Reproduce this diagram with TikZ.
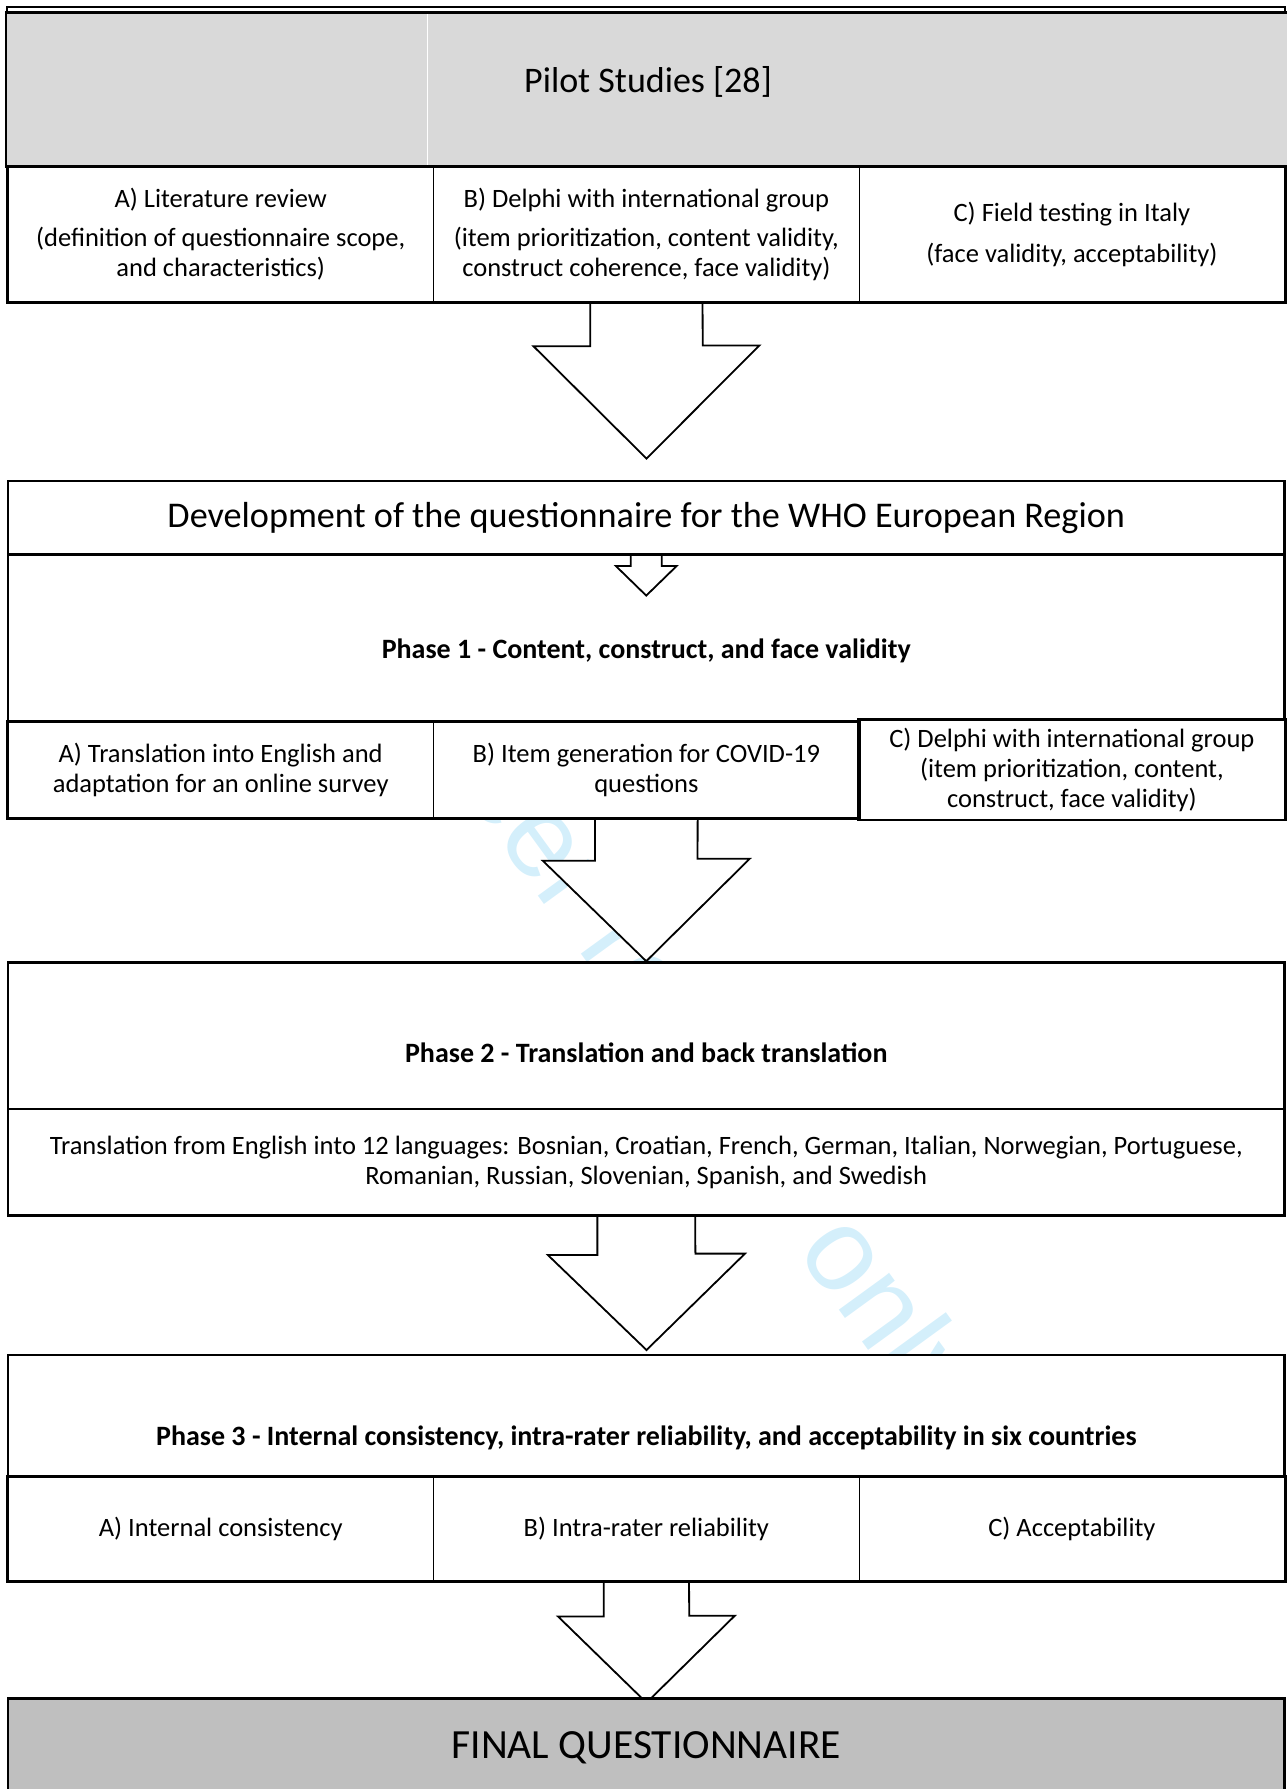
\documentclass[tikz,border=0pt]{standalone}
\usepackage{fontspec}
\setmainfont{Carlito}
\newfontfamily\wmfont{Liberation Sans}
\definecolor{hdrgray}{RGB}{217,217,217}
\definecolor{fingray}{RGB}{191,191,191}
\definecolor{wmblue}{RGB}{212,239,251}
\pgfdeclarelayer{bg}
\pgfsetlayers{bg,main}

\begin{document}
\begin{tikzpicture}[x=1pt, y=-1pt, line join=miter,
  body/.style={font=\fontsize{26.5}{30}\selectfont},
  cell/.style={draw, line width=1.6pt, fill=white, inner sep=0pt, align=center, body},
  panel/.style={draw, line width=2.6pt, fill=white, inner sep=0pt, align=center},
  frame/.style={draw, line width=2.6pt},
  blockarr/.style={draw, line width=1.8pt, fill=white},
  phasefont/.style={font=\fontsize{28}{32}\selectfont\bfseries}]

  %% ---- pilot studies ----
  \draw[line width=1.8pt, fill=white] (7,6.6) rectangle (1285,12.3);
  \node[panel, fill=hdrgray, minimum width=1284pt, minimum height=154.4pt,
        text height=12pt, text depth=7pt, font=\fontsize{36}{42}\selectfont]
        (pilot) at (648,89.5) {Pilot Studies [28]};
  \draw[white, line width=1pt] (427,14) -- (427,165);

  \node[cell, minimum width=425.4pt, minimum height=134.5pt] (pilotA) at (220.7,234.25)
    {A) Literature review\\[9pt](definition of questionnaire scope,\\and characteristics)};
  \node[cell, minimum width=425.9pt, minimum height=134.5pt] (pilotB) at (646.35,234.25)
    {B) Delphi with international group\\[9pt](item prioritization, content validity,\\construct coherence, face validity)};
  \node[cell, minimum width=425.2pt, minimum height=134.5pt] (pilotC) at (1071.9,234.25)
    {C) Field testing in Italy\\[11pt](face validity, acceptability)};
  \draw[frame] (pilotA.north west) rectangle (pilotC.south east);

  %% ---- development ----
  \node[panel, minimum width=1276.5pt, minimum height=73.3pt, font=\fontsize{36.2}{42}\selectfont]
        (dev) at (646.25,517.65) {Development of the questionnaire for the WHO European Region};

  %% phase 1
  \node[panel, minimum width=1276.5pt, minimum height=167.8pt, phasefont,
        text height=39.8pt, text depth=0pt]
        (ph1) at (646.25,638.2) {Phase 1 - Content, construct, and face validity};
  \node[cell, minimum width=425.4pt, minimum height=95.4pt] (ph1A) at (220.7,769.8)
    {A) Translation into English and\\adaptation for an online survey};
  \node[cell, minimum width=425.9pt, minimum height=95.4pt] (ph1B) at (646.35,769.8)
    {B) Item generation for COVID-19\\questions};
  \node[cell, minimum width=425.2pt, minimum height=98.9pt] (ph1C) at (1071.9,769.85)
    {C) Delphi with international group\\(item prioritization, content,\\construct, face validity)};
  \draw[frame] (ph1A.north west) rectangle (ph1B.south east);
  \draw[frame] (ph1C.north west) rectangle (ph1C.south east);

  %% phase 2
  \node[panel, minimum width=1276.5pt, minimum height=146.4pt, phasefont,
        text height=54.2pt, text depth=0pt]
        (ph2) at (646.25,1035.7) {Phase 2 - Translation and back translation};
  \node[panel, body, minimum width=1276.5pt, minimum height=106.5pt] (trans) at (646.25,1162.15)
    {Translation from English into 12 languages: Bosnian, Croatian, French, German, Italian, Norwegian, Portuguese,\\
     Romanian, Russian, Slovenian, Spanish, and Swedish};

  %% phase 3
  \node[panel, minimum width=1276.5pt, minimum height=121.7pt, phasefont,
        text height=59.8pt, text depth=0pt]
        (ph3) at (646.25,1415.85) {Phase 3 - Internal consistency, intra-rater reliability, and acceptability in six countries};
  \node[cell, minimum width=425.4pt, minimum height=104pt] (ph3A) at (220.7,1528.7) {A) Internal consistency};
  \node[cell, minimum width=425.9pt, minimum height=104pt] (ph3B) at (646.35,1528.7) {B) Intra-rater reliability};
  \node[cell, minimum width=425.2pt, minimum height=104pt] (ph3C) at (1071.9,1528.7) {C) Acceptability};
  \draw[frame] (ph3A.north west) rectangle (ph3C.south east);

  %% final
  \node[panel, fill=fingray, minimum width=1276.5pt, minimum height=93.4pt,
        text height=26.6pt, text depth=0pt, font=\fontsize{41.5}{48}\selectfont]
        (final) at (646.25,1745) {FINAL QUESTIONNAIRE};

  %% ---- arrows ----
  \coordinate (tip1) at (646.5,458.6);
  \coordinate (tip3) at (646.5,1350);
  \coordinate (tip4) at (646.5,1702.7);
  \draw[blockarr, fill=none] ([xshift=-15.5pt]dev.south) -- ++(0,10.3) -- ++(-15,0)
        -- ++(30.5,29.7) -- ++(30.5,-29.7) -- ++(-15,0) -- ([xshift=15.5pt]dev.south);

  \begin{pgfonlayer}{bg}
    % watermark
    \node[text=wmblue, rotate=-54, inner sep=0pt, font=\wmfont\fontsize{118}{118}\selectfont]
          (wm) at (633.7,975.2) {For peer review only};
    \draw[blockarr] ([xshift=-56.2pt]pilotB.south) -- ++(0,43.9) -- ++(-56.7,0) -- (tip1)
          -- ++(112.9,-113.2) -- ++(-56.7,0) -- ([xshift=56.2pt]pilotB.south);
    \draw[blockarr] ([xshift=-51.3pt]ph1B.south) -- ++(0,42.5) -- ++(-52.2,0) -- (ph2.north)
          -- ++(103.5,-102.5) -- ++(-52.2,0) -- ([xshift=51.3pt]ph1B.south);
    \draw[blockarr] ([xshift=-48.9pt]trans.south) -- ++(0,38.2) -- ++(-49.6,0) -- (tip3)
          -- ++(98.5,-96.4) -- ++(-49.6,0) -- ([xshift=48.9pt]trans.south);
    \draw[blockarr] ([xshift=-42.7pt]ph3B.south) -- ++(0,35) -- ++(-45.6,0) -- (tip4)
          -- ++(88.3,-87) -- ++(-45.6,0) -- ([xshift=42.7pt]ph3B.south);
  \end{pgfonlayer}

  \pgfresetboundingbox
  \path[use as bounding box] (0,0) rectangle (1287,1789);
\end{tikzpicture}
\end{document}
